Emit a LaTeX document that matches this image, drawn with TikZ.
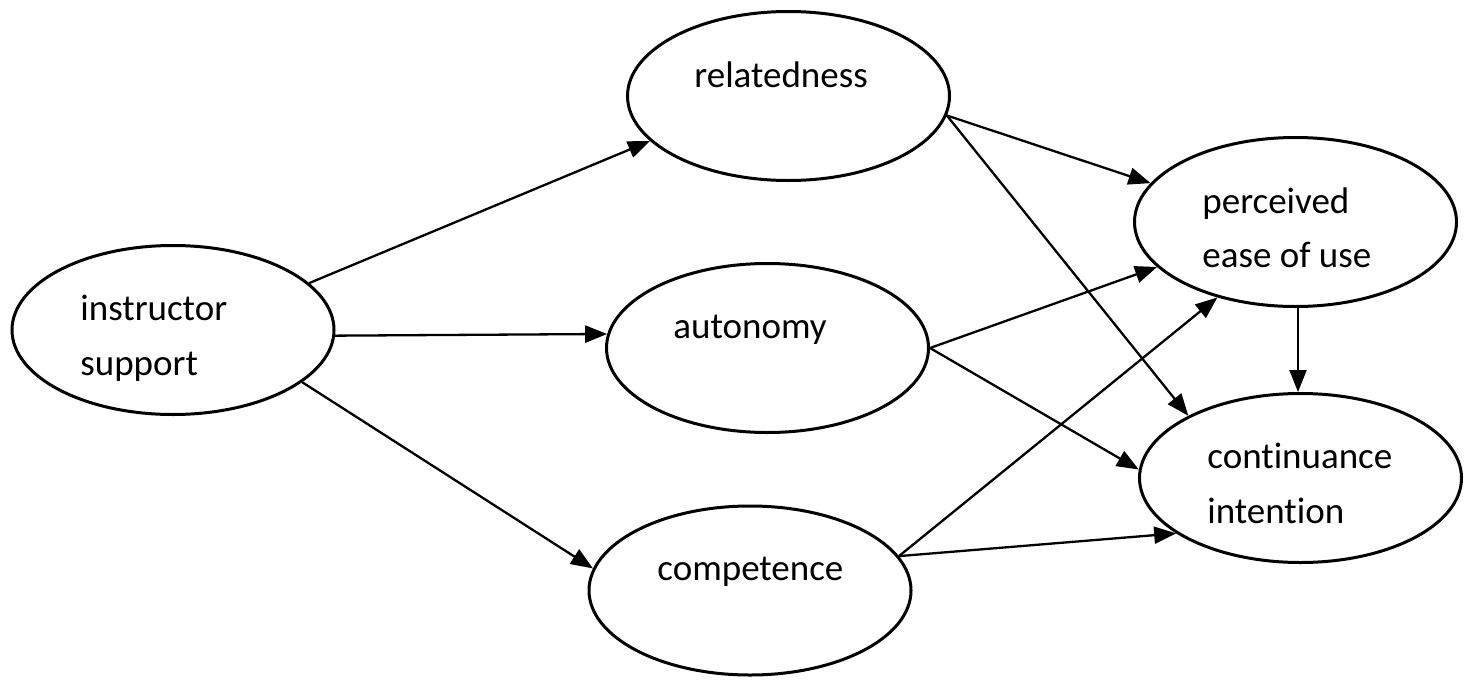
\documentclass[tikz,border=0pt]{standalone}
\usepackage{fontspec}
\setmainfont{Carlito}[Ligatures={NoCommon}]
\usetikzlibrary{shapes.geometric,arrows.meta}
\tikzset{
  construct/.style={draw, ellipse, line width=1.5pt, inner sep=0pt, minimum width=161pt, minimum height=84.5pt},
  label/.style={anchor=base west, inner sep=0pt, font=\fontsize{18.5}{22}\selectfont},
  path/.style={line width=1.15pt, -{Triangle[length=11pt,width=8.5pt]}}
}
\begin{document}
\begin{tikzpicture}[x=0.5pt,y=-0.5pt]
\useasboundingbox (0,0) rectangle (1477,686);
\node[construct] (inst) at (173,330) {};
\node[construct] (rel)  at (788.5,96) {};
\node[construct] (auto) at (767.5,348) {};
\node[construct] (comp) at (750,590.5) {};
\node[construct] (perc) at (1295.5,222) {};
\node[construct] (cont) at (1300.5,478) {};

\node[label] (inst1) at (80,320) {instructor};
\node[label] (inst2) at (80,375) {support};
\node[label] (rel1)  at (694,87) {relatedness};
\node[label] (auto1) at (673,338) {autonomy};
\node[label] (comp1) at (657,580) {competence};
\node[label] (perc1) at (1202,213) {perceived};
\node[label] (perc2) at (1202,267) {ease of use};
\node[label] (cont1) at (1207,468) {continuance};
\node[label] (cont2) at (1207,523) {intention};

\draw[path] (inst.19.9) -- (rel.198.9);
\draw[path] (inst.-2.1) -- (auto.175.8);
\draw[path] (inst.-22.6) -- (comp.172.8);
\draw[path] (rel.-7.4) -- (perc.165.2);
\draw[path] (rel.-7.4) -- (cont.151.4);
\draw[path] (auto.0.7) -- (perc.198.1);
\draw[path] (auto.0.7) -- (cont.177.2);
\draw[path] (comp.13.3) -- (perc.224.4);
\draw[path] (comp.13.3) -- (cont.204.1);
\draw[path] ([xshift=1.25pt]perc.south) -- ([xshift=1.25pt]perc.south |- cont.north);
\end{tikzpicture}
\end{document}
